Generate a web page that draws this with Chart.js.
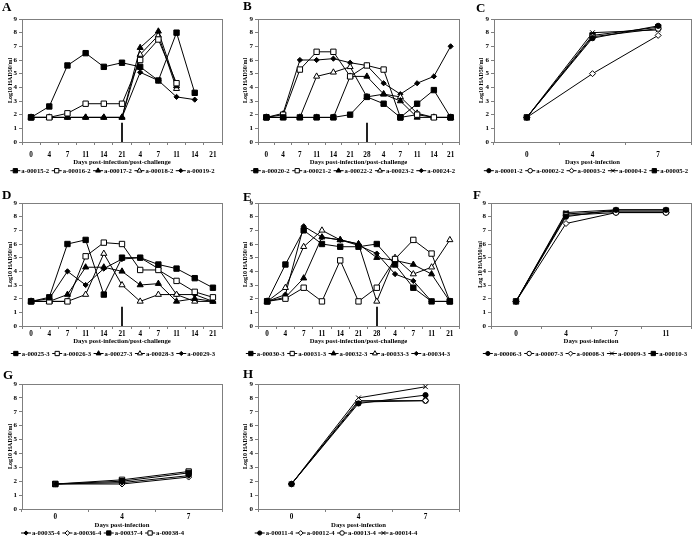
<!DOCTYPE html>
<html><head><meta charset="utf-8">
<script src="https://cdn.jsdelivr.net/npm/chart.js@4.4.0/dist/chart.umd.min.js"></script>
<style>
html,body{margin:0;padding:0;background:#fff;width:696px;height:541px;overflow:hidden;position:relative;}
canvas{position:absolute;}
.lt{position:absolute;font:bold 13px "Liberation Serif","Times New Roman",serif;line-height:1;color:#000;z-index:2;}
</style></head><body>
<div class="lt" style="left:2px;top:0px">A</div>
<div class="lt" style="left:243px;top:-1px">B</div>
<div class="lt" style="left:476px;top:1px">C</div>
<div class="lt" style="left:2px;top:188px">D</div>
<div class="lt" style="left:243px;top:190px">E</div>
<div class="lt" style="left:473px;top:188px">F</div>
<div class="lt" style="left:3px;top:368px">G</div>
<div class="lt" style="left:243px;top:367px">H</div>
<canvas id="cA"></canvas><canvas id="cB"></canvas><canvas id="cC"></canvas>
<canvas id="cD"></canvas><canvas id="cE"></canvas><canvas id="cF"></canvas>
<canvas id="cG"></canvas><canvas id="cH"></canvas>
<script>
// ---------- categories ----------
const daysA = ['0','4','7','11','14','21','4','7','11','14','21'];
const daysB = ['0','4','7','11','14','21','28','4','7','11','14','21'];
const daysC = ['0','4','7'];
const daysD = ['0','4','7','11','14','21','4','7','11','14','21'];
const daysE = ['0','4','7','11','14','21','28','4','7','11','21'];
const daysF = ['0','4','7','11'];
const daysG = ['0','4','7'];
const daysH = ['0','4','7'];
const yTicks = [0,1,2,3,4,5,6,7,8,9];

// challenge day (category index) and arrow height (log10 value)
const challengeA = 5, challengeB = 6, challengeD = 5, challengeE = 6;
const arrowTop = 1.4;

// ---------- series values (Log10 HAD50/ml) ----------
// A
const s00015_2 = [1.8,2.6,5.6,6.5,5.5,5.8,5.5,4.5,8.0,3.6,null];
const s00016_2 = [1.8,1.8,2.1,2.8,2.8,2.8,6.0,7.5,4.3,null,null];
const s00017_2 = [1.8,1.8,1.8,1.8,1.8,1.8,6.9,8.1,4.1,null,null];
const s00018_2 = [1.8,1.8,1.8,1.8,1.8,1.8,6.4,7.8,3.9,null,null];
const s00019_2 = [1.8,1.8,1.8,1.8,1.8,1.8,5.1,4.5,3.3,3.1,null];
// B
const s00020_2 = [1.8,1.8,1.8,1.8,1.8,2.0,3.3,2.8,1.8,2.8,3.8,1.8];
const s00021_2 = [1.8,2.0,5.3,6.6,6.6,4.8,5.6,5.3,1.8,2.0,1.8,1.8];
const s00022_2 = [1.8,1.8,1.8,1.8,1.8,4.8,4.8,3.5,3.0,1.8,1.8,1.8];
const s00023_2 = [1.8,1.8,1.8,4.8,5.1,5.5,3.3,3.5,3.3,2.1,1.8,1.8];
const s00024_2 = [1.8,2.1,6.0,6.0,6.1,5.8,5.6,4.3,3.5,4.3,4.8,7.0];
// C
const s00001_2 = [1.8,7.6,8.5];
const s00002_2 = [1.8,7.7,8.3];
const s00003_2 = [1.8,5.0,7.8];
const s00004_2 = [1.8,8.0,8.2];
const s00005_2 = [1.8,7.8,8.4];
// D
const s00025_3 = [1.8,2.1,6.0,6.3,2.3,5.0,5.0,4.5,4.2,3.5,2.8];
const s00026_3 = [1.8,1.8,1.8,5.1,6.1,6.0,4.1,4.1,3.3,2.5,2.1];
const s00027_3 = [1.8,1.8,2.3,4.3,4.3,4.0,3.0,3.1,1.8,2.0,1.8];
const s00028_3 = [1.8,1.8,1.8,2.3,5.3,3.0,1.8,2.3,2.3,1.8,1.8];
const s00029_3 = [1.8,2.0,4.0,3.0,4.2,4.9,5.0,4.2,2.3,2.3,1.8];
// E
const s00030_3 = [1.8,4.5,7.0,6.0,5.8,5.8,6.0,4.5,2.8,1.8,1.8];
const s00031_3 = [1.8,2.0,2.8,1.8,4.8,1.8,2.8,4.9,6.3,5.3,1.8];
const s00032_3 = [1.8,2.1,3.5,6.5,6.3,6.0,5.0,4.8,4.5,3.8,1.8];
const s00033_3 = [1.8,2.8,5.8,7.0,6.3,6.0,1.8,5.0,3.8,4.3,6.3];
const s00034_3 = [1.8,2.3,7.3,6.5,6.3,5.9,5.3,3.8,3.3,1.8,1.8];
// F
const s00006_3 = [1.8,8.0,8.5,8.5];
const s00007_3 = [1.8,8.1,8.3,8.3];
const s00008_3 = [1.8,7.5,8.3,8.3];
const s00009_3 = [1.8,8.3,8.5,8.5];
const s00010_3 = [1.8,8.2,8.4,8.4];
// G
const s00035_4 = [1.8,1.9,2.4];
const s00036_4 = [1.8,1.8,2.3];
const s00037_4 = [1.8,2.0,2.6];
const s00038_4 = [1.8,2.1,2.7];
// H
const s00011_4 = [1.8,7.6,8.2];
const s00012_4 = [1.8,7.8,7.8];
const s00013_4 = [1.8,7.7,7.8];
const s00014_4 = [1.8,8.0,8.8];

// ---------- styling ----------
const FONT = '"Liberation Serif","Times New Roman",serif';
const MK = {
  sqF:{ps:'rect',r:3.8,bg:'#000'}, sqO:{ps:'rect',r:3.8,bg:'#fff'},
  trF:{ps:'triangle',r:3.5,bg:'#000'}, trO:{ps:'triangle',r:3.5,bg:'#fff'},
  dmF:{ps:'rectRot',r:2.6,bg:'#000'}, dmO:{ps:'rectRot',r:3.0,bg:'#fff'},
  ciF:{ps:'circle',r:2.6,bg:'#000'}, ciO:{ps:'circle',r:2.8,bg:'#fff'},
  xx:{ps:'crossRot',r:3.3,bg:'#000'}
};

function drawMarker(ctx, mk, x, y, scale){
  const r = mk.r*scale;
  ctx.save();
  ctx.fillStyle = mk.bg; ctx.strokeStyle = '#000'; ctx.lineWidth = 1;
  if (Chart.helpers && Chart.helpers.drawPoint) {
    Chart.helpers.drawPoint(ctx, {pointStyle: mk.ps, radius: r, rotation: 0, borderWidth: 1}, x, y);
  }
  ctx.restore();
}

const panelPlugin = {
  id: 'panelExtras',
  beforeDatasetsDraw(chart, args, o){
    const a = chart.chartArea, ctx = chart.ctx;
    ctx.save();
    ctx.strokeStyle = '#7f7f7f'; ctx.lineWidth = 1;
    ctx.strokeRect(Math.round(a.left)+0.5, Math.round(a.top)+0.5, Math.round(a.right-a.left), Math.round(a.bottom-a.top));
    ctx.restore();
  },
  afterDatasetsDraw(chart, args, o){
    const ctx = chart.ctx;
    if (o.arrow !== null && o.arrow !== undefined){
      const x = chart.scales.x.getPixelForValue(o.arrow);
      const y0 = chart.scales.y.getPixelForValue(0), y1 = chart.scales.y.getPixelForValue(arrowTop);
      ctx.save(); ctx.strokeStyle = '#222'; ctx.lineWidth = 2;
      ctx.beginPath(); ctx.moveTo(Math.round(x), y0); ctx.lineTo(Math.round(x), y1); ctx.stroke(); ctx.restore();
    }
    // legend
    ctx.save();
    ctx.font = 'bold ' + o.lsize + 'px ' + FONT;
    ctx.textBaseline = 'middle'; ctx.textAlign = 'left';
    const seg = 10, gap = 2.5;
    const items = chart.data.datasets.map(d => ({d, w: seg + 1 + ctx.measureText(d.label).width}));
    const total = items.reduce((s,i)=>s+i.w,0) + gap*(items.length-1);
    let x = o.lcx - total/2; const y = o.ly;
    items.forEach(it => {
      ctx.strokeStyle = '#000'; ctx.lineWidth = 1;
      ctx.beginPath(); ctx.moveTo(x, y); ctx.lineTo(x+seg, y); ctx.stroke();
      drawMarker(ctx, it.d.mk, x+seg/2, y, 0.8);
      ctx.fillStyle = '#000';
      ctx.fillText(it.d.label, x+seg+1, y+0.5);
      x += it.w + gap;
    });
    ctx.restore();
  }
};

function makePanel(id, p){
  const cv = document.getElementById(id);
  cv.width = p.w; cv.height = p.h;
  cv.style.left = p.x + 'px'; cv.style.top = p.y + 'px';
  const a = p.area;
  const lhT = 6.7*1.2, lhY = 6*1.2;
  const xh = p.xTitleY - a.b + lhT/2;
  const datasets = p.series.map(s => ({
    label: s[0], data: s[1], mk: MK[s[2]],
    borderColor: '#000', borderWidth: 1, tension: 0, spanGaps: false,
    pointStyle: MK[s[2]].ps, pointRadius: MK[s[2]].r, pointBackgroundColor: MK[s[2]].bg,
    pointBorderColor: '#000', pointBorderWidth: 1, fill: false
  }));
  new Chart(cv, {
    type: 'line',
    data: {labels: p.labels, datasets},
    options: {
      responsive: false, animation: false, devicePixelRatio: 1,
      layout: {padding: {left: 0, top: a.t, right: p.w - a.r, bottom: p.h - a.b - xh}},
      plugins: {legend: {display: false}, tooltip: {enabled: false},
        panelExtras: {arrow: p.arrow, lcx: p.lcx, ly: p.ly, lsize: 6.7}},
      scales: {
        x: {type: 'category', offset: true,
          grid: {display: true, drawOnChartArea: false, drawTicks: true, tickLength: 3, offset: true, color: '#7f7f7f'},
          border: {display: false},
          ticks: {font: {family: FONT, size: 7.2, weight: 'bold'}, color: '#000', padding: p.tickPad, maxRotation: 0, autoSkip: false},
          title: {display: true, text: p.xTitle, font: {family: FONT, size: 6.7, weight: 'bold'}, color: '#000', padding: {top: 0, bottom: 0}},
          afterFit: s => { s.height = xh; }
        },
        y: {min: 0, max: 9,
          afterBuildTicks: s => { s.ticks = yTicks.map(v => ({value: v})); },
          grid: {display: true, drawOnChartArea: false, drawTicks: true, tickLength: 3, color: '#7f7f7f'},
          border: {display: false},
          ticks: {font: {family: FONT, size: 7, weight: 'bold'}, color: '#000', padding: 2},
          title: {display: true, text: p.yTitle, font: {family: FONT, size: 6, weight: 'bold'}, color: '#000', padding: {top: p.yTitleX - lhY/2, bottom: 0}},
          afterFit: s => { s.width = a.l; }
        }
      }
    },
    plugins: [panelPlugin]
  });
}

const XT1 = 'Days post-infection/post-challenge', XT2 = 'Days post-infection';
const YT = 'Log10 HAD50/ml';
const R1 = {tickPad: 5.8, xTitleY: 162.3, ly: 170.7};
const R2 = {tickPad: 0.8, xTitleY: 163.7, ly: 175.5};
const R3 = {tickPad: 1.3, xTitleY: 165, ly: 173};

makePanel('cA', Object.assign({x:0,y:0,w:232,h:178, area:{l:22,t:19,r:222,b:142}, labels: daysA, xTitle: XT1, yTitle: YT, yTitleX: 10, lcx: 112.5, arrow: challengeA,
  series: [['a-00015-2', s00015_2, 'sqF'], ['a-00016-2', s00016_2, 'sqO'], ['a-00017-2', s00017_2, 'trF'], ['a-00018-2', s00018_2, 'trO'], ['a-00019-2', s00019_2, 'dmF']]}, R1));
makePanel('cB', Object.assign({x:232,y:0,w:232,h:178, area:{l:26,t:19,r:227,b:142}, labels: daysB, xTitle: XT1, yTitle: YT, yTitleX: 13.7, lcx: 121, arrow: challengeB,
  series: [['a-00020-2', s00020_2, 'sqF'], ['a-00021-2', s00021_2, 'sqO'], ['a-00022-2', s00022_2, 'trF'], ['a-00023-2', s00023_2, 'trO'], ['a-00024-2', s00024_2, 'dmF']]}, R1));
makePanel('cC', Object.assign({x:464,y:0,w:232,h:178, area:{l:30,t:19,r:228,b:142}, labels: daysC, xTitle: XT2, yTitle: YT, yTitleX: 17.7, lcx: 122, arrow: null,
  series: [['a-00001-2', s00001_2, 'ciF'], ['a-00002-2', s00002_2, 'ciO'], ['a-00003-2', s00003_2, 'dmO'], ['a-00004-2', s00004_2, 'xx'], ['a-00005-2', s00005_2, 'sqF']]}, R1));
makePanel('cD', Object.assign({x:0,y:178,w:232,h:182, area:{l:22,t:25,r:222,b:148}, labels: daysD, xTitle: XT1, yTitle: YT, yTitleX: 10, lcx: 113, arrow: challengeD,
  series: [['a-00025-3', s00025_3, 'sqF'], ['a-00026-3', s00026_3, 'sqO'], ['a-00027-3', s00027_3, 'trF'], ['a-00028-3', s00028_3, 'trO'], ['a-00029-3', s00029_3, 'dmF']]}, R2));
makePanel('cE', Object.assign({x:232,y:178,w:232,h:182, area:{l:26,t:25,r:228,b:148}, labels: daysE, xTitle: XT1, yTitle: YT, yTitleX: 13, lcx: 116, arrow: challengeE,
  series: [['a-00030-3', s00030_3, 'sqF'], ['a-00031-3', s00031_3, 'sqO'], ['a-00032-3', s00032_3, 'trF'], ['a-00033-3', s00033_3, 'trO'], ['a-00034-3', s00034_3, 'dmF']]}, R2));
makePanel('cF', Object.assign({x:464,y:178,w:232,h:182, area:{l:27,t:25,r:229,b:148}, labels: daysF, xTitle: XT2, yTitle: 'Log 10 HAD50/ml', yTitleX: 16.7, lcx: 121, arrow: null,
  series: [['a-00006-3', s00006_3, 'ciF'], ['a-00007-3', s00007_3, 'ciO'], ['a-00008-3', s00008_3, 'dmO'], ['a-00009-3', s00009_3, 'xx'], ['a-00010-3', s00010_3, 'sqF']]}, R2));
makePanel('cG', Object.assign({x:0,y:360,w:232,h:181, area:{l:22,t:24,r:222,b:149}, labels: daysG, xTitle: XT2, yTitle: YT, yTitleX: 10, lcx: 102.5, arrow: null,
  series: [['a-00035-4', s00035_4, 'dmF'], ['a-00036-4', s00036_4, 'dmO'], ['a-00037-4', s00037_4, 'sqF'], ['a-00038-4', s00038_4, 'sqO']]}, R3));
makePanel('cH', Object.assign({x:232,y:360,w:232,h:181, area:{l:26,t:24,r:228,b:149}, labels: daysH, xTitle: XT2, yTitle: YT, yTitleX: 13.7, lcx: 104, arrow: null,
  series: [['a-00011-4', s00011_4, 'ciF'], ['a-00012-4', s00012_4, 'dmO'], ['a-00013-4', s00013_4, 'ciO'], ['a-00014-4', s00014_4, 'xx']]}, R3));
</script>
</body></html>
